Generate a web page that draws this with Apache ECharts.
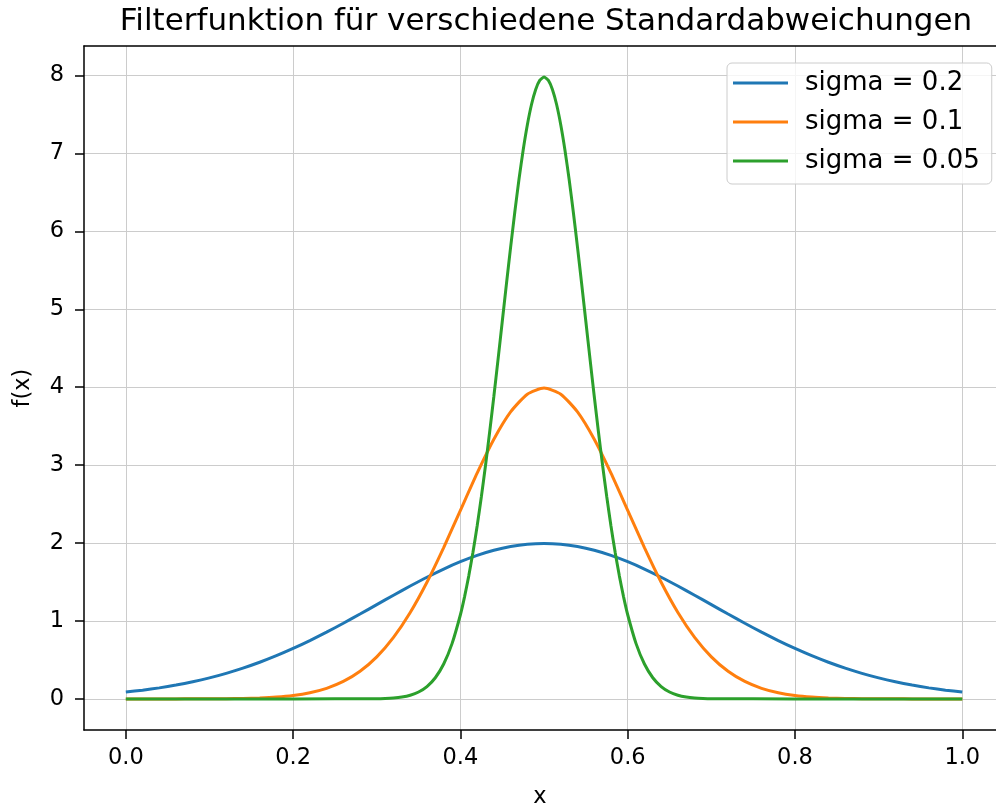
<!DOCTYPE html>
<html>
<head>
<meta charset="utf-8">
<script src="https://cdn.jsdelivr.net/npm/echarts@6/dist/echarts.min.js"></script>
<style>
  html, body { margin: 0; padding: 0; background: #fff; }
  #chart { width: 996px; height: 809px; }
</style>
</head>
<body>
<div id="chart"></div>
<script>
// Gaussian filter kernels centred at x = 0.5 for three standard deviations
const seriesNames = ['sigma = 0.2', 'sigma = 0.1', 'sigma = 0.05'];
const seriesColors = ['#1f77b4', '#ff7f0e', '#2ca02c'];

const xWide = [0.00, 0.02, 0.04, 0.06, 0.08, 0.10, 0.12, 0.14, 0.16, 0.18,
  0.20, 0.22, 0.24, 0.26, 0.28, 0.30, 0.32, 0.34, 0.36, 0.38,
  0.40, 0.42, 0.44, 0.46, 0.48, 0.50, 0.52, 0.54, 0.56, 0.58,
  0.60, 0.62, 0.64, 0.66, 0.68, 0.70, 0.72, 0.74, 0.76, 0.78,
  0.80, 0.82, 0.84, 0.86, 0.88, 0.90, 0.92, 0.94, 0.96, 0.98, 1.00];

const sigma02 = [0.0876, 0.1120, 0.1417, 0.1774, 0.2200, 0.2700, 0.3281, 0.3948, 0.4702, 0.5546,
  0.6476, 0.7487, 0.8569, 0.9710, 1.0893, 1.2098, 1.3304, 1.4484, 1.5613, 1.6662,
  1.7603, 1.8414, 1.9070, 1.9552, 1.9848, 1.9947, 1.9848, 1.9552, 1.9070, 1.8414,
  1.7603, 1.6662, 1.5613, 1.4484, 1.3304, 1.2098, 1.0893, 0.9710, 0.8569, 0.7487,
  0.6476, 0.5546, 0.4702, 0.3948, 0.3281, 0.2700, 0.2200, 0.1774, 0.1417, 0.1120, 0.0876];

const sigma01 = [0.0000, 0.0000, 0.0001, 0.0003, 0.0006, 0.0013, 0.0029, 0.0061, 0.0123, 0.0238,
  0.0443, 0.0792, 0.1358, 0.2239, 0.3547, 0.5399, 0.7895, 1.1092, 1.4973, 1.9419,
  2.4197, 2.8968, 3.3322, 3.6827, 3.9104, 3.9894, 3.9104, 3.6827, 3.3322, 2.8968,
  2.4197, 1.9419, 1.4973, 1.1092, 0.7895, 0.5399, 0.3547, 0.2239, 0.1358, 0.0792,
  0.0443, 0.0238, 0.0123, 0.0061, 0.0029, 0.0013, 0.0006, 0.0003, 0.0001, 0.0000, 0.0000];

const xNarrow = [0.00, 0.10, 0.20, 0.30, 0.31, 0.32, 0.33, 0.34, 0.35, 0.36, 0.37, 0.38, 0.39,
  0.400, 0.405, 0.410, 0.415, 0.420, 0.425, 0.430, 0.435, 0.440, 0.445,
  0.450, 0.455, 0.460, 0.465, 0.470, 0.475, 0.480, 0.485, 0.490, 0.495, 0.500,
  0.505, 0.510, 0.515, 0.520, 0.525, 0.530, 0.535, 0.540, 0.545,
  0.550, 0.555, 0.560, 0.565, 0.570, 0.575, 0.580, 0.585, 0.590, 0.595, 0.600,
  0.61, 0.62, 0.63, 0.64, 0.65, 0.66, 0.67, 0.68, 0.69, 0.70, 0.80, 0.90, 1.00];

const sigma005 = [0.0000, 0.0000, 0.0000, 0.0027, 0.0058, 0.0122, 0.0246, 0.0477, 0.0886, 0.1583, 0.2716, 0.4478, 0.7095,
  1.0798, 1.3125, 1.5790, 1.8806, 2.2184, 2.5907, 2.9945, 3.4277, 3.8837, 4.3572,
  4.8394, 5.3219, 5.7938, 6.2451, 6.6645, 7.0413, 7.3654, 7.6277, 7.8208, 7.9390, 7.9788,
  7.9390, 7.8208, 7.6277, 7.3654, 7.0413, 6.6645, 6.2451, 5.7938, 5.3219,
  4.8394, 4.3572, 3.8837, 3.4277, 2.9945, 2.5907, 2.2184, 1.8806, 1.5790, 1.3125, 1.0798,
  0.7095, 0.4478, 0.2716, 0.1583, 0.0886, 0.0477, 0.0246, 0.0122, 0.0058, 0.0027, 0.0000, 0.0000, 0.0000];

const xTicks = [0.0, 0.2, 0.4, 0.6, 0.8, 1.0];
const yTicks = [0, 1, 2, 3, 4, 5, 6, 7, 8];

const zip = (xs, ys) => xs.map((x, i) => [x, ys[i]]);
const curves = [zip(xWide, sigma02), zip(xWide, sigma01), zip(xNarrow, sigma005)];

const FONT = 'DejaVu Sans';
const SPINE = { color: '#000', width: 1.5 };
const GRIDLINE = { color: '#cccccc', width: 1 };

const chart = echarts.init(document.getElementById('chart'), null, { renderer: 'canvas' });

chart.setOption({
  animation: false,
  backgroundColor: '#fff',
  textStyle: { fontFamily: FONT },
  title: {
    text: 'Filterfunktion für verschiedene Standardabweichungen',
    left: 541, top: 1, textAlign: 'center',
    textStyle: { fontFamily: FONT, fontSize: 31, fontWeight: 'normal', color: '#000' }
  },
  grid: { left: 84, right: 0, top: 46, bottom: 79, outerBoundsMode: 'none', containLabel: false },
  legend: {
    orient: 'vertical',
    left: 727, top: 63,
    padding: [7, 12, 10, 6],
    itemGap: 13,
    itemWidth: 55, itemHeight: 3,
    icon: 'rect',
    backgroundColor: 'rgba(255,255,255,0.8)',
    borderColor: '#cccccc', borderWidth: 1, borderRadius: 5,
    textStyle: { fontFamily: FONT, fontSize: 26, color: '#000', padding: [0, 0, 0, 12] },
    data: seriesNames
  },
  xAxis: [{
    type: 'value', min: -0.05, max: 1.0403,
    name: 'x', nameLocation: 'middle', nameGap: 56,
    nameTextStyle: { fontFamily: FONT, fontSize: 22.5, color: '#000' },
    axisLine: { show: true, onZero: false, lineStyle: SPINE },
    axisTick: { show: true, inside: false, length: 9, customValues: xTicks, lineStyle: SPINE },
    axisLabel: { customValues: xTicks, margin: 17, fontFamily: FONT, fontSize: 22.5, color: '#000',
      formatter: v => v.toFixed(1) },
    splitLine: { show: true, lineStyle: GRIDLINE }
  }, {
    // top frame line
    type: 'value', position: 'top', min: -0.05, max: 1.0403,
    axisLine: { show: true, onZero: false, lineStyle: SPINE },
    axisTick: { show: false }, axisLabel: { show: false }, splitLine: { show: false }
  }],
  yAxis: {
    type: 'value', min: -0.399, max: 8.378,
    name: 'f(x)', nameLocation: 'middle', nameGap: 49, nameRotate: 90,
    nameTextStyle: { fontFamily: FONT, fontSize: 22.5, color: '#000' },
    axisLine: { show: true, onZero: false, lineStyle: SPINE },
    axisTick: { show: true, inside: false, length: 9, customValues: yTicks, lineStyle: SPINE },
    axisLabel: { customValues: yTicks, margin: 20, fontFamily: FONT, fontSize: 22.5, color: '#000' },
    splitLine: { show: true, lineStyle: GRIDLINE }
  },
  series: curves.map((d, i) => ({
    name: seriesNames[i],
    type: 'line',
    xAxisIndex: 0,
    data: d,
    showSymbol: false,
    symbol: 'none',
    smooth: 0.2,
    color: seriesColors[i],
    lineStyle: { width: 3, color: seriesColors[i] },
    z: 3 + i
  }))
});
</script>
</body>
</html>
